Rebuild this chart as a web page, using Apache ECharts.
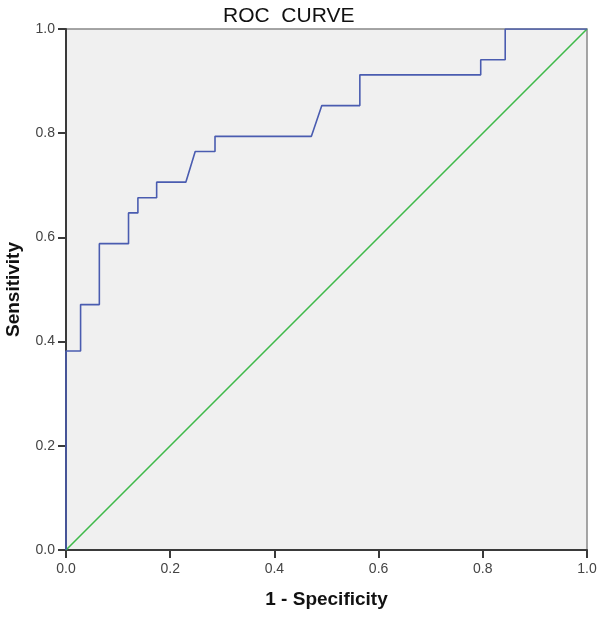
<!DOCTYPE html>
<html><head><meta charset="utf-8">
<script src="https://cdn.jsdelivr.net/npm/echarts@6/dist/echarts.min.js"></script>
<style>html,body{margin:0;padding:0;background:#fff}#c{width:600px;height:617px}</style>
</head><body><div id="c"></div>
<script>
// ROC curve: 1 - specificity (x) and sensitivity (y)
var rocFpr  = [0, 0, 0.028, 0.028, 0.064, 0.064, 0.120, 0.120, 0.138, 0.138, 0.174, 0.174, 0.230, 0.248, 0.286, 0.286, 0.471, 0.491, 0.564, 0.564, 0.796, 0.796, 0.843, 0.843, 1.0];
var rocTpr  = [0, 0.382, 0.382, 0.471, 0.471, 0.588, 0.588, 0.647, 0.647, 0.676, 0.676, 0.706, 0.706, 0.765, 0.765, 0.794, 0.794, 0.853, 0.853, 0.912, 0.912, 0.941, 0.941, 1.0, 1.0];
var refX = [0, 1];
var refY = [0, 1];

var rocData = rocFpr.map(function(v, i){ return [v, rocTpr[i]]; });
var refData = refX.map(function(v, i){ return [v, refY[i]]; });

var chart = echarts.init(document.getElementById('c'), null, {renderer: 'canvas'});
var FONT = 'Liberation Sans, Arial, sans-serif';
function labelStyle(margin){
  return {margin: margin, color: '#444', fontSize: 14, fontFamily: FONT,
    formatter: function(v){ return v.toFixed(1); }};
}
chart.setOption({
  animation: false,
  backgroundColor: '#fff',
  title: {
    text: 'ROC  CURVE', left: 218, top: 1,
    textStyle: {fontSize: 21, fontWeight: 'normal', color: '#111', fontFamily: FONT}
  },
  grid: {left: 66, top: 29, right: 13, bottom: 67, containLabel: false, outerBoundsMode: 'none',
         show: true, backgroundColor: '#f0f0f0', borderColor: '#888', borderWidth: 1.5},
  xAxis: {
    type: 'value', min: 0, max: 1, interval: 0.2,
    name: '1 - Specificity', nameLocation: 'middle', nameGap: 40,
    nameTextStyle: {fontSize: 19, fontWeight: 'bold', color: '#111', fontFamily: FONT},
    axisLine: {show: true, lineStyle: {color: '#3a3a3a', width: 2}},
    axisTick: {show: true, length: 8, inside: false, lineStyle: {color: '#3a3a3a', width: 2}},
    axisLabel: labelStyle(12),
    splitLine: {show: false}
  },
  yAxis: {
    type: 'value', min: 0, max: 1, interval: 0.2,
    name: 'Sensitivity', nameLocation: 'middle', nameGap: 43,
    nameTextStyle: {fontSize: 19, fontWeight: 'bold', color: '#111', fontFamily: FONT},
    axisLine: {show: true, lineStyle: {color: '#3a3a3a', width: 2}},
    axisTick: {show: true, length: 8, inside: false, lineStyle: {color: '#3a3a3a', width: 2}},
    axisLabel: labelStyle(11),
    splitLine: {show: false}
  },
  series: [
    {type: 'line', data: refData, showSymbol: false, symbol: 'none',
     lineStyle: {color: '#3fba4a', width: 1.6}, z: 3},
    {type: 'line', data: rocData, showSymbol: false, symbol: 'none',
     lineStyle: {color: '#4a5cb0', width: 1.6}, z: 4}
  ]
});
</script>
</body></html>
